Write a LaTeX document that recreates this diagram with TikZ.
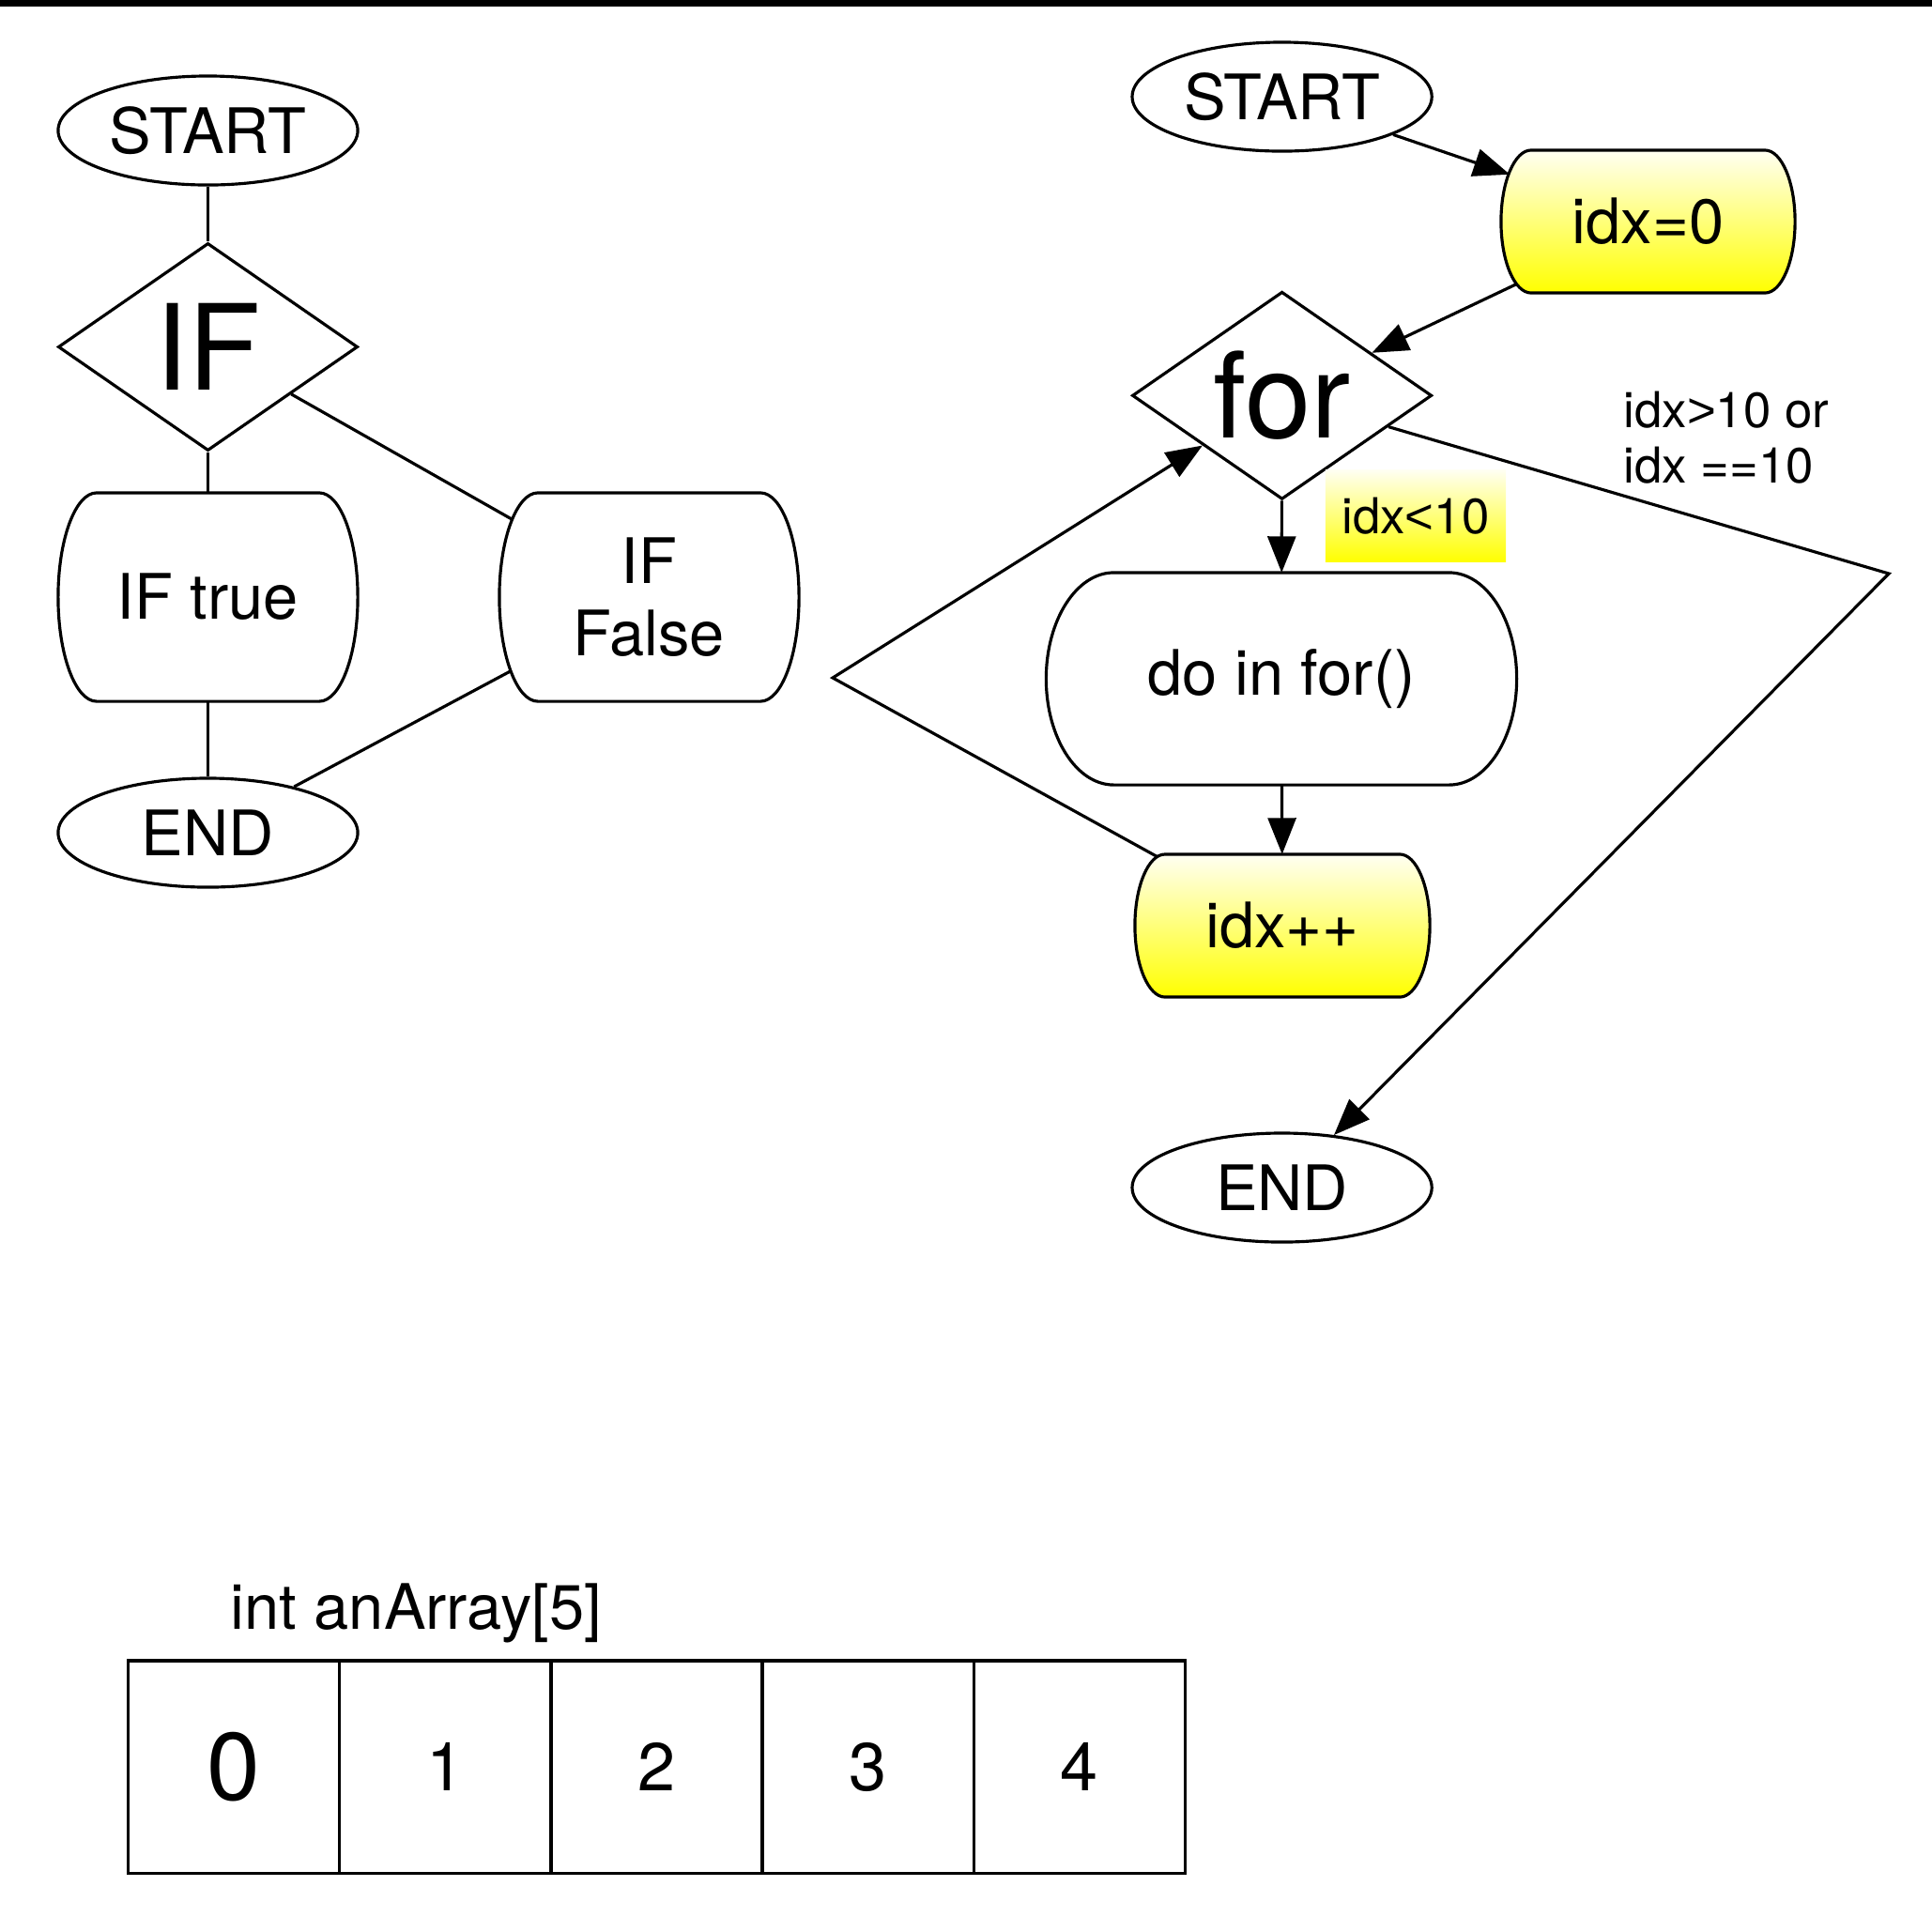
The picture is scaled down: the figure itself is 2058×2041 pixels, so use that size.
\documentclass[tikz,border=0pt]{standalone}
\usepackage{fontspec}
\setmainfont{TeX Gyre Heros}
\newfontfamily\arialfont{Liberation Sans}
\usepackage{tikz}
\usetikzlibrary{shapes.geometric,arrows.meta,calc}
\pgfdeclarelayer{wires}
\pgfdeclarelayer{boxes}
\pgfsetlayers{wires,boxes,main}

\newcommand{\lbl}{\fontsize{19pt}{22pt}\selectfont}
\newcommand{\biglbl}{\fontsize{36pt}{40pt}\selectfont}
\newcommand{\smalllbl}{\fontsize{15pt}{16.8pt}\selectfont}
\newcommand{\lt}{{\arialfont<}}
\newcommand{\gt}{{\arialfont>}}

\tikzstyle{wire} = [line width=0.9pt]
\tikzstyle{arrow} = [wire,-{Triangle[length=11pt,width=8.5pt]}]
\tikzstyle{term} = [draw,wire,ellipse,fill=white,minimum width=3.19cm,minimum height=1.16cm,inner sep=0pt,font=\lbl]
\tikzstyle{decide} = [draw,wire,diamond,aspect=1.44,fill=white,minimum width=3.19cm,minimum height=2.21cm,inner sep=0pt,font=\biglbl]
\tikzstyle{proc} = [inner sep=0pt,outer sep=0pt,align=center,font=\lbl]
\tikzstyle{slot} = [draw,wire,minimum width=2.252cm,minimum height=2.26cm,inner sep=0pt]
\tikzstyle{hilite} = [top color=yellow!5,bottom color=yellow]

% box with bulging sides, drawn behind a proc node
\newcommand{\bulgebox}[3][fill=white]{%
  \draw[wire,#1] let \p1=($(#2.north)-(#2.south)$) in
    ([xshift=#3]#2.north west) -- ([xshift=-#3]#2.north east)
    arc[start angle=90,end angle=-90,x radius=#3,y radius=0.5*\y1]
    -- ([xshift=#3]#2.south west)
    arc[start angle=270,end angle=90,x radius=#3,y radius=0.5*\y1] -- cycle;}

\begin{document}
\begin{tikzpicture}[x=0.01cm,y=-0.01cm]
  \useasboundingbox (0,0) rectangle (2058,2041);
  \fill (0,0) rectangle (2058,7);

  % if
  \node[term] (lstart) at (221.5,139) {START};
  \node[decide] (lif) at (221.5,369.5) {IF};
  \node[proc,minimum width=3.19cm,minimum height=2.22cm] (ltrue) at (221.5,636) {IF true};
  \node[proc,minimum width=3.19cm,minimum height=2.22cm] (lfalse) at (691.5,636) {IF\\False};
  \node[term] (lend) at (221.5,887) {END};

  % for
  \node[term] (rstart) at (1365.6,103) {START};
  \node[proc,minimum width=3.13cm,minimum height=1.52cm] (init) at (1755.5,236) {idx=0};
  \node[decide] (rfor) at (1365.6,421.3) {for};
  \node[proc,minimum width=5.01cm,minimum height=2.26cm] (body) at (1365,723) {do in for()};
  \node[proc,minimum width=3.14cm,minimum height=1.52cm] (inc) at (1366,986) {idx++};
  \node[term] (rend) at (1365.6,1265) {END};
  \node[hilite,inner sep=0pt,minimum width=1.92cm,minimum height=0.98cm,font=\smalllbl] (cond) at (1508,549.5) {idx\lt10};
  \node[inner sep=0pt,align=left,anchor=west,font=\smalllbl] (exitlbl) at (1729,466) {idx\gt10 or\\idx ==10};
  \coordinate (back) at (887,722);
  \coordinate (out) at (2012,611);

  \begin{pgfonlayer}{boxes}
    \bulgebox{ltrue}{0.41cm}
    \bulgebox{lfalse}{0.41cm}
    \bulgebox[hilite]{init}{0.32cm}
    \bulgebox{body}{0.72cm}
    \bulgebox[hilite]{inc}{0.32cm}
  \end{pgfonlayer}

  \begin{pgfonlayer}{wires}
    \draw[wire] (lstart) -- (lif);
    \draw[wire] (lif) -- (ltrue);
    \draw[wire] (lif) -- (lfalse.center);
    \draw[wire] (ltrue) -- (lend);
    \draw[wire] (lfalse.center) -- (lend);
    \draw[arrow,shorten >=-2.8pt] (rstart) -- (init);
    \draw[arrow] (init.center) -- (rfor);
    \draw[arrow] (rfor) -- (body);
    \draw[arrow] (body) -- (inc);
    \draw[arrow] (inc.center) -- (back) -- (rfor);
    \draw[arrow] (rfor) -- (out) -- (rend);
  \end{pgfonlayer}

  % array
  \node[font=\lbl,inner sep=0pt,anchor=base west] (title) at (245,1735) {int anArray[5]};
  \foreach \i/\fs in {0/29,1/20.5,2/20.5,3/20.5,4/20.5}
    \node[slot,font=\fontsize{\fs}{\fs}\selectfont] (a\i) at ({249.1+225.2*\i},1882) {\i};
\end{tikzpicture}
\end{document}
